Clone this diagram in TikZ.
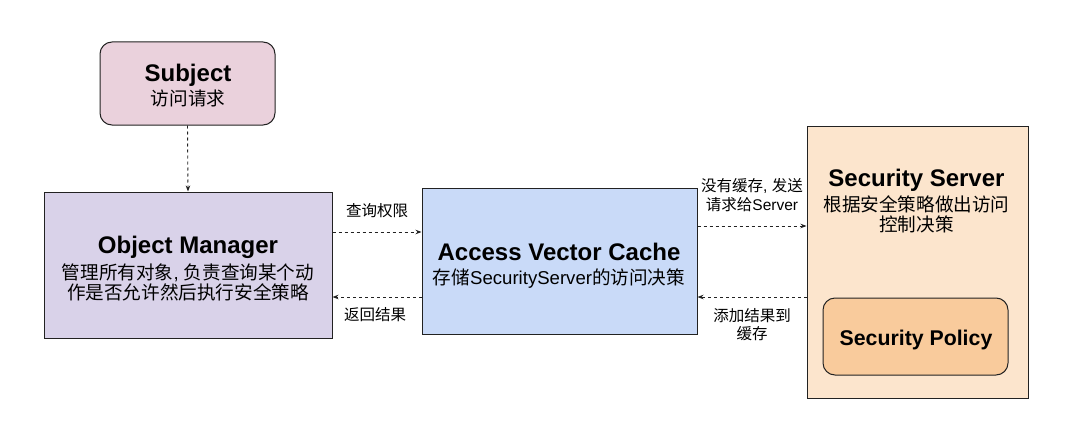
\documentclass[tikz,border=0pt]{standalone}
\usepackage{fontspec}
\setmainfont{Liberation Sans}
\newfontfamily\cjk{Noto Sans CJK SC}
\usetikzlibrary{arrows.meta}
\definecolor{subjfill}{HTML}{EAD1DC}
\definecolor{omfill}{HTML}{D9D2E9}
\definecolor{avcfill}{HTML}{C9DAF8}
\definecolor{ssfill}{HTML}{FCE5CD}
\definecolor{spfill}{HTML}{F9CB9C}
\definecolor{edge}{HTML}{222222}
\newcommand\latn[1]{{\rmfamily #1}}
\begin{document}
\begin{tikzpicture}[x=1pt,y=-1pt,
  box/.style={draw=edge, line width=1pt, inner sep=0pt, rectangle},
  ttl/.style={anchor=base, inner sep=0pt, font=\fontsize{24}{28}\selectfont\bfseries, text=black},
  ttlsm/.style={anchor=base, inner sep=0pt, font=\fontsize{21.3}{25}\selectfont\bfseries, text=black},
  body/.style={anchor=base, inner sep=0pt, font=\fontsize{18.6}{22}\selectfont\cjk, text=black},
  lbl/.style={anchor=base, inner sep=0pt, font=\fontsize{15.5}{18}\selectfont\cjk, text=black},
  arr/.style={draw=edge, line width=0.9pt, dash pattern=on 3pt off 3pt, -{Stealth[length=6pt,width=4.5pt]}}
]
\useasboundingbox[fill=white] (0,0) rectangle (1073,444);

% boxes
\node[box, fill=subjfill, rounded corners=12pt, minimum width=175pt, minimum height=83pt] (subj) at (187.5,83.5) {};
\node[box, fill=omfill, minimum width=288pt, minimum height=146pt] (om) at (188,265) {};
\node[box, fill=avcfill, minimum width=275pt, minimum height=146pt] (avc) at (559.5,261) {};
\node[box, fill=ssfill, minimum width=221pt, minimum height=272pt] (ss) at (917.5,262) {};
\node[box, fill=spfill, rounded corners=12pt, minimum width=185pt, minimum height=77pt] (sp) at (915.5,336.5) {};

% texts
\node[ttl] (subjt) at (188,81.5) {Subject};
\node[body] (subjb) at (188,105.5) {访问请求};

\node[ttl] (omt) at (188,253) {Object Manager};
\node[body] (omb1) at (188,279.5) {管理所有对象\latn{, }负责查询某个动};
\node[body] (omb2) at (188,299) {作是否允许然后执行安全策略};

\node[ttl] (avct) at (559,260) {Access Vector Cache};
\node[body] (avcb) at (559,284.7) {存储\latn{SecurityServer}的访问决策};

\node[ttl] (sst) at (916.5,186.7) {Security Server};
\node[body] (ssb1) at (916.5,211) {根据安全策略做出访问};
\node[body] (ssb2) at (916.5,231.5) {控制决策};

\node[ttlsm] (spt) at (916,345.5) {Security Policy};

% labels
\node[lbl] (l1) at (377,216.7) {查询权限};
\node[lbl] (l2) at (375,320.7) {返回结果};
\node[lbl] (l3a) at (752,191.7) {没有缓存\latn{, }发送};
\node[lbl] (l3b) at (752,210.7) {请求给\latn{Server}};
\node[lbl] (l4a) at (752,321.3) {添加结果到};
\node[lbl] (l4b) at (752,339) {缓存};

% connectors
\coordinate (ya) at (0,232);
\coordinate (yb) at (0,297);
\coordinate (yc) at (0,226);
\draw[arr] (subj.south) -- (om.north);
\draw[arr] (om.east |- ya) -- (avc.west |- ya);
\draw[arr] (avc.west |- yb) -- (om.east |- yb);
\draw[arr] (avc.east |- yc) -- (ss.west |- yc);
\draw[arr] (ss.west |- yb) -- (avc.east |- yb);
\end{tikzpicture}
\end{document}
